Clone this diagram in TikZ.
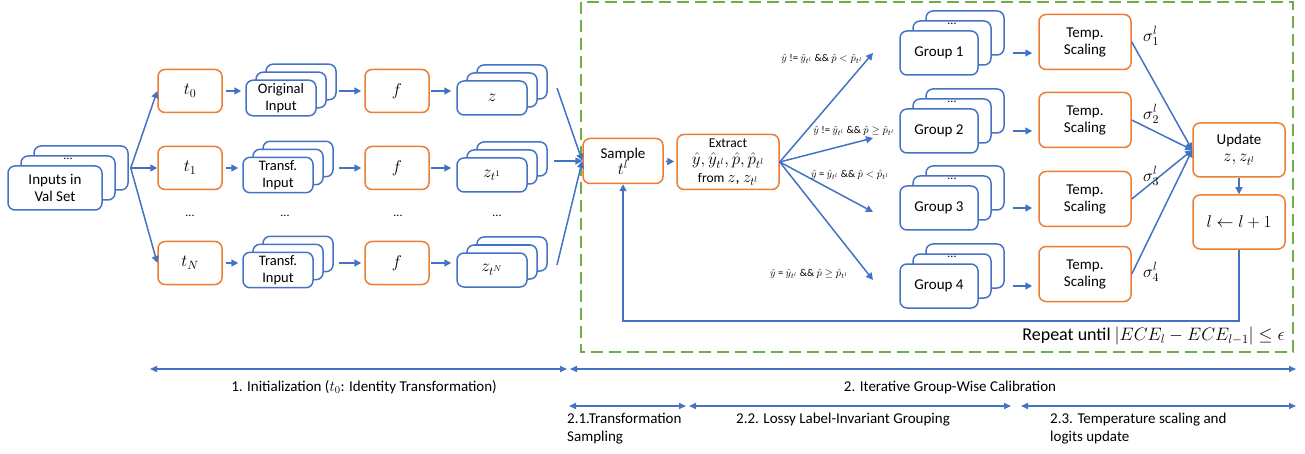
\RequirePackage{fix-cm}
\documentclass[tikz,border=0pt]{standalone}
\usepackage{amsmath,amssymb}
\usepackage{fontspec}
\setmainfont{Carlito}
\usepackage{tikz}
\usetikzlibrary{arrows.meta, shadows}
\usepackage{xcolor}

\definecolor{cblue}{RGB}{68,114,196}
\definecolor{corange}{RGB}{237,125,49}
\definecolor{cgreen}{RGB}{112,173,71}

\begin{document}
\begin{tikzpicture}[
    x=1pt, y=-1pt,
    obox/.style={draw=corange, fill=white, line width=1.5pt, rounded corners=7pt, minimum width=64pt, minimum height=43pt, align=center, font=\fontsize{15}{17}\selectfont},
    bbox/.style={draw=cblue, fill=white, line width=1.5pt, rounded corners=7pt, align=center, font=\fontsize{15}{17}\selectfont},
    smallstack/.style={bbox, minimum width=70pt, minimum height=34pt, font=\fontsize{14.5}{16.5}\selectfont,
        copy shadow={shadow xshift=20pt, shadow yshift=16pt, draw=cblue, line width=1.5pt},
        copy shadow={shadow xshift=10pt, shadow yshift=8pt, draw=cblue, line width=1.5pt}},
    bigstack/.style={bbox, minimum width=78pt, minimum height=44pt,
        copy shadow={shadow xshift=26pt, shadow yshift=20pt, draw=cblue, line width=1.5pt},
        copy shadow={shadow xshift=13pt, shadow yshift=10pt, draw=cblue, line width=1.5pt}},
    mathtext/.style={font=\fontsize{17}{19}\selectfont},
    dots/.style={font=\fontsize{12}{12}\selectfont, inner sep=0pt},
    cond/.style={font=\fontsize{10.5}{12}\selectfont, inner sep=0pt},
    arrow/.style={-{Triangle[length=7pt,width=7pt]}, line width=1.5pt, draw=cblue},
    span/.style={{Triangle[length=7pt,width=6pt]}-{Triangle[length=7pt,width=6pt]}, line width=1.5pt, draw=cblue},
    note/.style={font=\fontsize{15}{18}\selectfont, align=left, inner sep=0pt}
]
\useasboundingbox (0,0) rectangle (1305,454);

% repeat region
\draw[cgreen, line width=1.5pt, dash pattern=on 12pt off 6pt] (581,2) rectangle (1293,352);

% inputs and transformations
\node[bigstack, minimum width=94pt] (in) at (55,188) {Inputs in\\Val Set};
\node[dots] (indots) at ([xshift=13pt, yshift=6pt]in.north) {...};
\coordinate (inR) at ([xshift=28pt, yshift=20pt]in.east);

\node[obox, mathtext] (t0) at (190,91) {$t_0$};
\node[obox, mathtext] (t1) at (190,168) {$t_1$};
\node[obox, mathtext] (tN) at (190,263) {$t_N$};
\node[dots] (tdots) at (190,216) {...};

\node[smallstack] (x0) at (281,98) {Original\\Input};
\node[smallstack] (x1) at (278,175) {Transf.\\Input};
\node[smallstack] (xN) at (278,270) {Transf.\\Input};
\node[dots] (xdots) at (285,216) {...};

\node[obox, mathtext] (f0) at (397,91) {$f$};
\node[obox, mathtext] (f1) at (397,168) {$f$};
\node[obox, mathtext] (fN) at (397,263) {$f$};
\node[dots] (fdots) at (398,216) {...};

\node[smallstack, mathtext] (z0) at (492,98) {$z$};
\node[smallstack, mathtext] (z1) at (492,175) {$z_{t^1}$};
\node[smallstack, mathtext] (zN) at (492,270) {$z_{t^N}$};
\node[dots] (zdots) at (497,216) {...};

\draw[arrow] (inR) -- (t0.west);
\draw[arrow] (inR) -- (t1.west);
\draw[arrow] (inR) -- (tN.west);

\draw[arrow, shorten <=3pt, shorten >=4pt] (t0) -- (t0 -| x0.west);
\draw[arrow, shorten <=3pt, shorten >=4pt] (t1) -- (t1 -| x1.west);
\draw[arrow, shorten <=3pt, shorten >=4pt] (tN) -- (tN -| xN.west);
\draw[arrow, shorten <=22pt, shorten >=3pt] (x0.east |- f0) -- (f0);
\draw[arrow, shorten <=25pt, shorten >=3pt] (x1.east |- f1) -- (f1);
\draw[arrow, shorten <=25pt, shorten >=3pt] (xN.east |- fN) -- (fN);
\draw[arrow, shorten <=1pt, shorten >=5pt] (f0) -- (f0 -| z0.west);
\draw[arrow, shorten <=1pt, shorten >=5pt] (f1) -- (f1 -| z1.west);
\draw[arrow, shorten <=1pt, shorten >=5pt] (fN) -- (fN -| zN.west);

% sampling and grouping
\node[obox, minimum width=80pt, minimum height=45pt] (sample) at (623,161) {Sample\\[-1pt]{\fontsize{17}{17}\selectfont$t^l$}};
\node[obox, minimum width=102pt, minimum height=55pt, inner sep=2pt, font=\fontsize{13.5}{17.5}\selectfont] (extract) at (728,162)
    {Extract\\{\fontsize{17}{17.5}\selectfont$\hat{y}, \hat{y}_{t^l}, \hat{p}, \hat{p}_{t^l}$}\\from {\fontsize{16}{17.5}\selectfont$z$, $z_{t^l}$}};

\coordinate (c0) at (557,88);
\coordinate (c1) at (554,161);
\coordinate (cN) at (557,265);
\draw[arrow] (c0) -- (sample.west);
\draw[arrow] (c1) -- (sample.west);
\draw[arrow] (cN) -- (sample.west);
\draw[arrow, shorten <=2pt, shorten >=2pt] (sample) -- (extract);

\node[bigstack] (g1) at (939,53) {Group 1};
\node[bigstack] (g2) at (939,131) {Group 2};
\node[bigstack] (g3) at (939,208) {Group 3};
\node[bigstack] (g4) at (939,286) {Group 4};
\node[dots] (g1dots) at ([xshift=13pt, yshift=6pt]g1.north) {...};
\node[dots] (g2dots) at ([xshift=13pt, yshift=6pt]g2.north) {...};
\node[dots] (g3dots) at ([xshift=13pt, yshift=6pt]g3.north) {...};
\node[dots] (g4dots) at ([xshift=13pt, yshift=6pt]g4.north) {...};

\coordinate (e1) at (873,53);
\coordinate (e2) at (873,138);
\coordinate (e3) at (873,212);
\coordinate (e4) at (873,280);
\draw[arrow] (extract.east) -- (e1);
\draw[arrow] (extract.east) -- (e2);
\draw[arrow] (extract.east) -- (e3);
\draw[arrow] (extract.east) -- (e4);

\node[cond] (k1) at (822,59) {$\hat{y}$ != $\hat{y}_{t^l}$ \&\& $\hat{p} < \hat{p}_{t^l}$};
\node[cond] (k2) at (854,131) {$\hat{y}$ != $\hat{y}_{t^l}$ \&\& $\hat{p} \geq \hat{p}_{t^l}$};
\node[cond] (k3) at (850,175) {$\hat{y}$ = $\hat{y}_{t^l}$ \&\& $\hat{p} < \hat{p}_{t^l}$};
\node[cond] (k4) at (809,274) {$\hat{y}$ = $\hat{y}_{t^l}$ \&\& $\hat{p} \geq \hat{p}_{t^l}$};

% temperature scaling and update
\node[obox, minimum width=92pt, minimum height=55pt] (ts1) at (1085,42) {Temp.\\Scaling};
\node[obox, minimum width=92pt, minimum height=55pt] (ts2) at (1085,120) {Temp.\\Scaling};
\node[obox, minimum width=92pt, minimum height=55pt] (ts3) at (1085,199) {Temp.\\Scaling};
\node[obox, minimum width=92pt, minimum height=55pt] (ts4) at (1085,274) {Temp.\\Scaling};

\draw[arrow, shorten <=34pt, shorten >=6pt] (g1) -- (g1 -| ts1.west);
\draw[arrow, shorten <=34pt, shorten >=6pt] (g2) -- (g2 -| ts2.west);
\draw[arrow, shorten <=34pt, shorten >=6pt] (g3) -- (g3 -| ts3.west);
\draw[arrow, shorten <=34pt, shorten >=6pt] (g4) -- (g4 -| ts4.west);

\node[obox, minimum width=92pt, minimum height=54pt] (update) at (1239,150) {Update\\{\fontsize{17}{19}\selectfont$z, z_{t^l}$}};
\node[obox, minimum width=92pt, minimum height=54pt, mathtext] (inc) at (1239,222) {$l \leftarrow l+1$};

\draw[arrow] (ts1.east) -- (update.west);
\draw[arrow] (ts2.east) -- (update.west);
\draw[arrow] (ts3.east) -- (update.west);
\draw[arrow] (ts4.east) -- (update.west);
\node[mathtext] (s1) at (1151,36) {$\sigma_1^l$};
\node[mathtext] (s2) at (1151,114) {$\sigma_2^l$};
\node[mathtext] (s3) at (1151,176) {$\sigma_3^l$};
\node[mathtext] (s4) at (1151,272) {$\sigma_4^l$};

\draw[arrow] (update) -- (inc);
\coordinate (back) at (1239,321);
\draw[arrow] (inc.south) -- (back) -| (sample.south);
\node[anchor=east, font=\fontsize{18}{20}\selectfont, inner sep=0pt] (until) at (1285,336)
    {Repeat until $|ECE_l - ECE_{l-1}| \leq \epsilon$};

% stages below
\coordinate (a0) at (150,369);
\coordinate (a1) at (567,369);
\coordinate (a2) at (570,369);
\coordinate (a3) at (1296,369);
\coordinate (b0) at (569,406);
\coordinate (b1) at (686,406);
\coordinate (b2) at (689,406);
\coordinate (b3) at (1011,406);
\coordinate (b4) at (1021,406);
\coordinate (b5) at (1296,406);
\draw[span] (a0) -- (a1);
\draw[span] (a2) -- (a3);
\draw[span] (b0) -- (b1);
\draw[span] (b2) -- (b3);
\draw[span] (b4) -- (b5);

\node[note] (st1) at (364,387) {1. Initialization ($t_0$: Identity Transformation)};
\node[note] (st2) at (950,387) {2. Iterative Group-Wise Calibration};
\node[note, anchor=north west] (st21) at (567,413) {2.1.Transformation\\Sampling};
\node[note, anchor=north west] (st22) at (736,413) {2.2. Lossy Label-Invariant Grouping};
\node[note, anchor=north west] (st23) at (1050,413) {2.3. Temperature scaling and\\logits update};

\end{tikzpicture}
\end{document}
